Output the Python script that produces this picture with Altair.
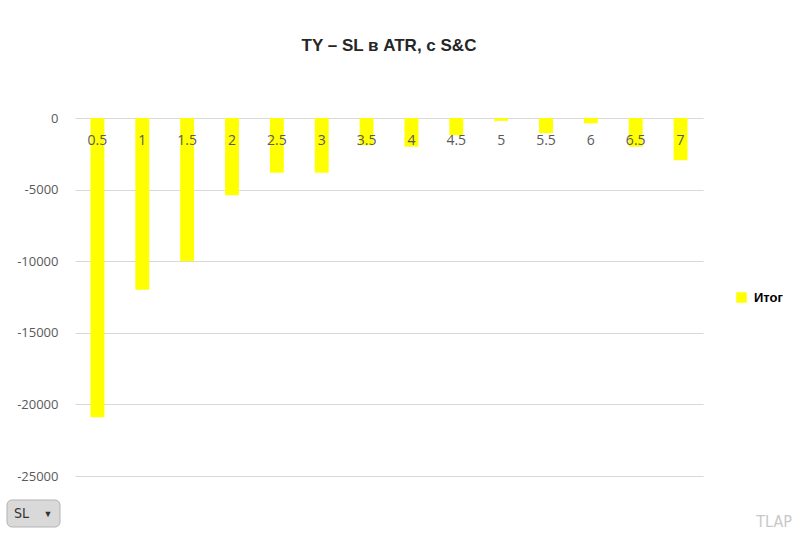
import altair as alt
import pandas as pd

categories = ["0.5", "1", "1.5", "2", "2.5", "3", "3.5", "4", "4.5", "5", "5.5", "6", "6.5", "7"]
values = [-20900, -12000, -10000, -5400, -3820, -3820, -1900, -2000, -1200, -200, -1060, -370, -2000, -2950]
series_name = "Итог"
title_text = "TY – SL в ATR, с S&C"
y_ticks = [0, -5000, -10000, -15000, -20000, -25000]

df = pd.DataFrame({"SL": categories, "value": values, "series": [series_name] * len(categories)})

W, H = 628, 358

x_enc = alt.X("SL:N", sort=categories,
              scale=alt.Scale(paddingInner=0.69, paddingOuter=0.345),
              axis=alt.Axis(title=None, labels=False, domain=False, ticks=False, grid=False))

bars = alt.Chart(df).mark_bar(color="#ffff00").encode(
    x=x_enc,
    y=alt.Y("value:Q",
            scale=alt.Scale(domain=[-25000, 0], nice=False, zero=True),
            axis=alt.Axis(title=None, values=y_ticks, labelExpr="datum.value + ''",
                          domain=False, ticks=False, labelPadding=17, labelFontSize=13,
                          labelColor="#595959", labelFont="Open Sans",
                          grid=True, gridColor="#d9d9d9", gridWidth=1.2)),
    color=alt.Color("series:N", scale=alt.Scale(domain=[series_name], range=["#ffff00"]),
                    legend=alt.Legend(title=None, orient="none", legendX=660, legendY=173,
                                      symbolType="square", symbolSize=110, symbolStrokeWidth=0,
                                      labelFont="Liberation Sans", labelFontWeight="bold",
                                      labelFontSize=13, labelColor="#000000", labelOffset=6)),
)

cat_labels = alt.Chart(df).mark_text(
    font="Open Sans", fontSize=14, color="#595959", baseline="middle", align="center"
).encode(x=x_enc, y=alt.value(23), text="SL:N")

deco = pd.DataFrame({"a": [1]})

button = alt.Chart(deco).mark_rect(
    cornerRadius=5, fill="#d9d9d9", stroke="#b3b3b3", strokeWidth=1
).encode(x=alt.value(-68), x2=alt.value(-15), y=alt.value(382), y2=alt.value(409))

button_text = alt.Chart(deco).mark_text(
    text="SL", font="DejaVu Sans Condensed", fontSize=14, color="#333333", align="left", baseline="middle"
).encode(x=alt.value(-61), y=alt.value(396))

button_arrow = alt.Chart(deco).mark_text(
    text="▼", fontSize=9, color="#333333", align="center", baseline="middle"
).encode(x=alt.value(-27), y=alt.value(396))

watermark = alt.Chart(deco).mark_text(
    text="TLAP", font="DejaVu Sans Condensed", fontSize=16, color="#c8c8c8", align="right", baseline="middle"
).encode(x=alt.value(717), y=alt.value(404))

chart = alt.layer(bars, cat_labels, button, button_text, button_arrow, watermark).properties(
    width=W, height=H,
    title=alt.TitleParams(title_text, font="Liberation Sans", fontSize=17, fontWeight="bold",
                          color="#262626", anchor="middle", frame="group", offset=57),
    autosize=alt.AutoSizeParams(type="none"),
    padding={"left": 75, "top": 118, "right": 102, "bottom": 64},
    background="#ffffff",
).configure_view(stroke=None)

chart.save("out.html", embed_options={"renderer": "svg", "actions": False})
